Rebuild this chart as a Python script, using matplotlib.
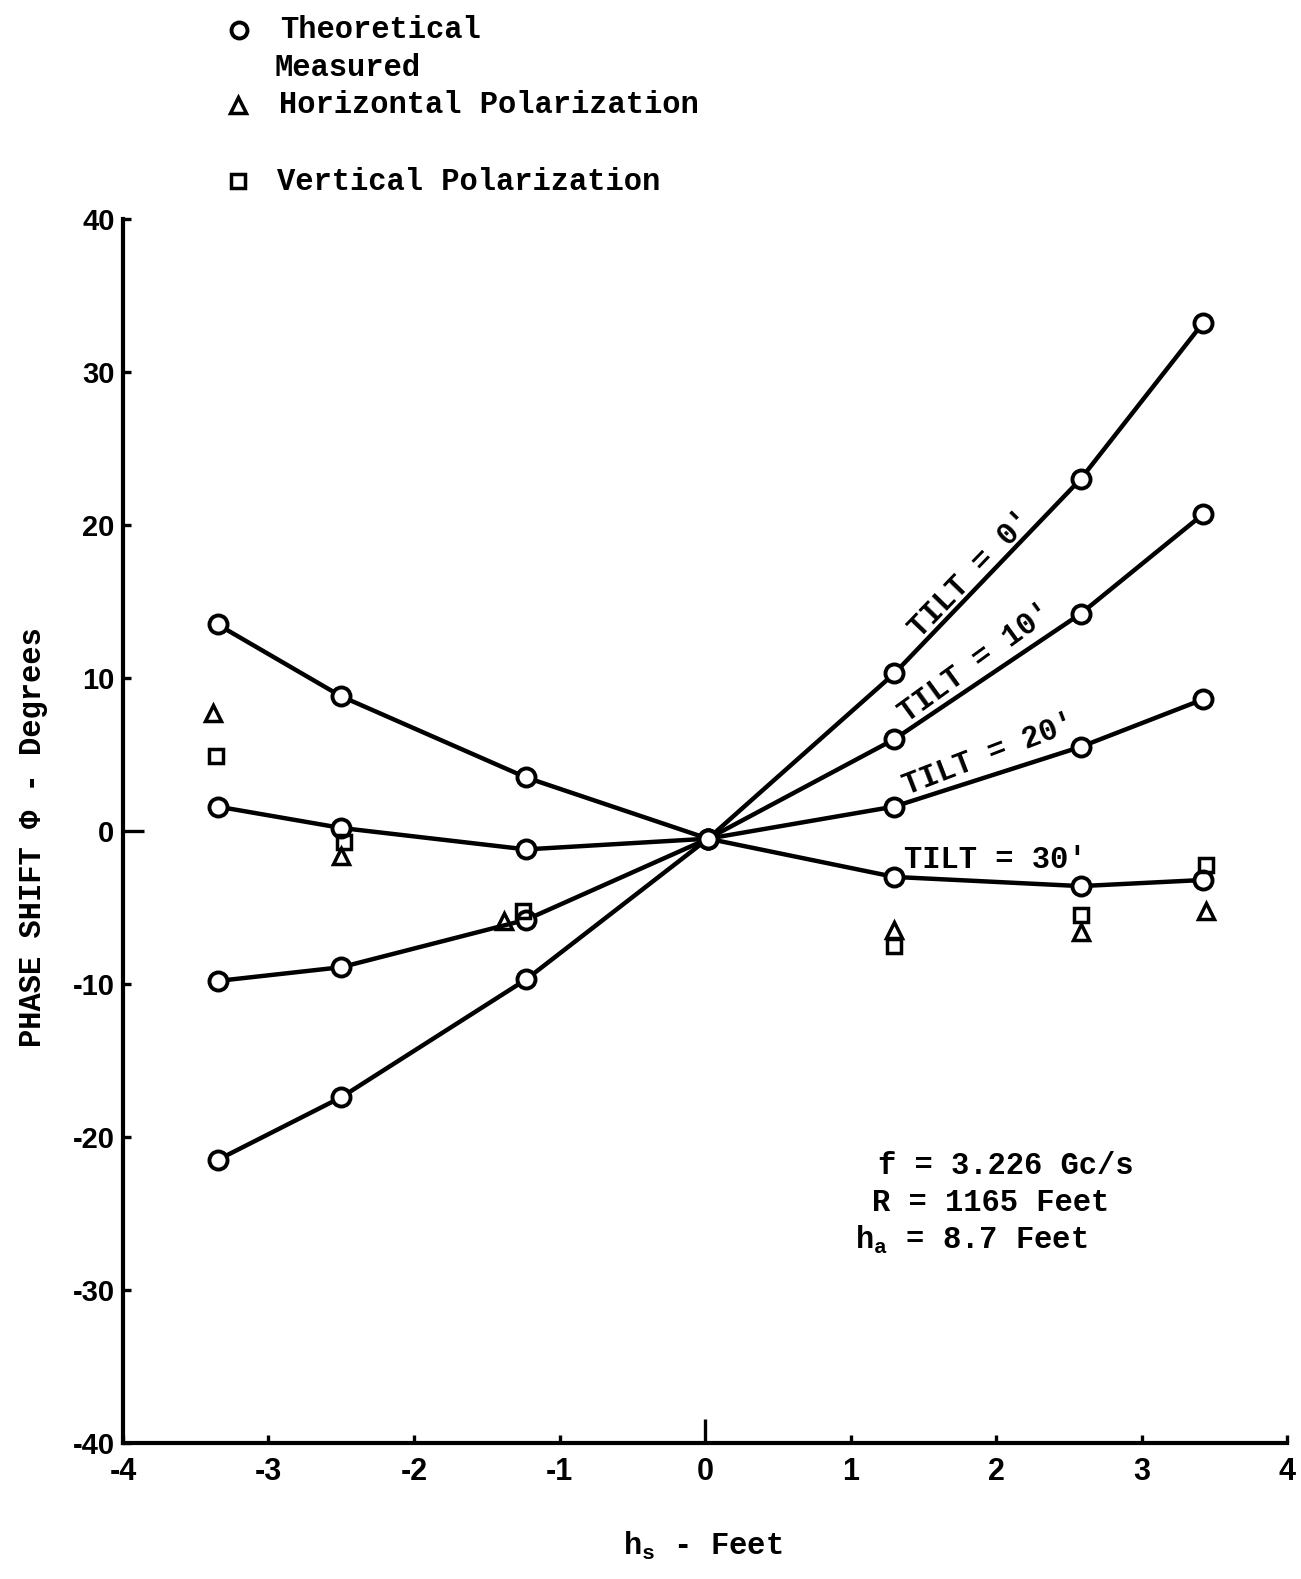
import matplotlib
matplotlib.use("Agg")
import matplotlib.pyplot as plt

plt.rcParams['font.family'] = ['Liberation Mono', 'DejaVu Sans Mono']
plt.rcParams['mathtext.fontset'] = 'custom'
plt.rcParams['mathtext.rm'] = 'Liberation Mono:bold'
plt.rcParams['mathtext.default'] = 'rm'

# antenna height h_s (feet) where the phase shift was computed
hs = [-3.35, -2.5, -1.23, 0.02, 1.3, 2.58, 3.42]
tilt_0 = [-21.5, -17.4, -9.7, -0.5, 10.3, 23.0, 33.2]
tilt_10 = [-9.8, -8.9, -5.8, -0.5, 6.0, 14.2, 20.7]
tilt_20 = [1.6, 0.2, -1.2, -0.5, 1.6, 5.5, 8.6]
tilt_30 = [13.5, 8.8, 3.5, -0.5, -3.0, -3.6, -3.2]

# measured points
hs_horiz = [-3.38, -2.5, -1.38, 1.3, 2.58, 3.44]
ph_horiz = [7.7, -1.6, -5.9, -6.5, -6.6, -5.2]
hs_vert = [-3.36, -2.48, -1.25, 1.3, 2.58, 3.44]
ph_vert = [4.9, -0.7, -5.2, -7.5, -5.5, -2.2]

xticks = [-4, -3, -2, -1, 0, 1, 2, 3, 4]
yticks = [-40, -30, -20, -10, 0, 10, 20, 30, 40]

fig = plt.figure(figsize=(13.01, 15.79), dpi=100)
ax = fig.add_axes([0.0945, 0.0861, 0.895, 0.7752])

for ph in (tilt_0, tilt_10, tilt_20, tilt_30):
    ax.plot(hs, ph, color='black', lw=3.2, marker='o', ms=13, mfc='white',
            mec='black', mew=2.8, zorder=3)

ax.plot(hs_horiz, ph_horiz, ls='none', marker='^', ms=11, mfc='none',
        mec='black', mew=2.5, zorder=4)
ax.plot(hs_vert, ph_vert, ls='none', marker='s', ms=9.5, mfc='none',
        mec='black', mew=2.5, zorder=4)

ax.set_xlim(-4, 4)
ax.set_ylim(-40, 40)
for side in ('top', 'right'):
    ax.spines[side].set_visible(False)
for side in ('left', 'bottom'):
    ax.spines[side].set_linewidth(3)

ax.set_xticks(xticks)
ax.set_xticklabels([str(v) for v in xticks], family='Liberation Sans',
                   fontsize=22, fontweight='bold')
ax.set_yticks(yticks)
ax.set_yticklabels([str(v) for v in yticks], family='Liberation Sans',
                   fontsize=21, fontweight='bold')
ax.tick_params(axis='both', direction='in', length=6, width=2.4)
ax.tick_params(axis='x', pad=10)
ax.tick_params(axis='y', pad=6)
# longer ticks at zero
ax.xaxis.get_major_ticks()[4].tick1line.set_markersize(17)
ax.yaxis.get_major_ticks()[4].tick1line.set_markersize(15)

# curve labels
lab = dict(fontsize=22, fontweight='bold', ha='center', va='center')
ax.text(1.83, 16.8, "TILT = 0'", rotation=46, **lab)
ax.text(1.86, 11.0, "TILT = 10'", rotation=36, **lab)
ax.text(1.95, 5.0, "TILT = 20'", rotation=21, **lab)
ax.text(1.99, -1.9, "TILT = 30'", rotation=0, **lab)

# test conditions
cond = dict(fontsize=22, fontweight='bold', ha='left', va='center')
fig.text(878 / 1301, 1 - 1166 / 1579, "f = 3.226 Gc/s", **cond)
fig.text(872 / 1301, 1 - 1203 / 1579, "R = 1165 Feet", **cond)
fig.text(855 / 1301, 1 - 1240 / 1579, "$h_a$ = 8.7 Feet", **cond)

# axis titles
fig.text(703 / 1301, 1 - 1546 / 1579, "$h_s$ - Feet", fontsize=22,
         fontweight='bold', ha='center', va='center')
fig.text(33 / 1301, 1 - 837 / 1579, "PHASE SHIFT \u03a6 - Degrees", fontsize=22,
         fontweight='bold', rotation=90, ha='center', va='center')

# key at the top
fig.add_artist(plt.Line2D([239 / 1301], [1 - 30 / 1579], marker='o', ms=11.5,
                          mfc='white', mec='black', mew=2.8, ls='none'))
fig.add_artist(plt.Line2D([238 / 1301], [1 - 105 / 1579], marker='^', ms=11,
                          mfc='none', mec='black', mew=2.5, ls='none'))
fig.add_artist(plt.Line2D([238 / 1301], [1 - 181 / 1579], marker='s', ms=9.5,
                          mfc='none', mec='black', mew=2.5, ls='none'))
key = dict(fontsize=22, fontweight='bold', ha='left', va='center')
fig.text(280 / 1301, 1 - 30 / 1579, "Theoretical", **key)
fig.text(274 / 1301, 1 - 68 / 1579, "Measured", **key)
fig.text(279 / 1301, 1 - 105 / 1579, "Horizontal Polarization", **key)
fig.text(277 / 1301, 1 - 182 / 1579, "Vertical Polarization", **key)

fig.savefig("out.png", dpi=100)
